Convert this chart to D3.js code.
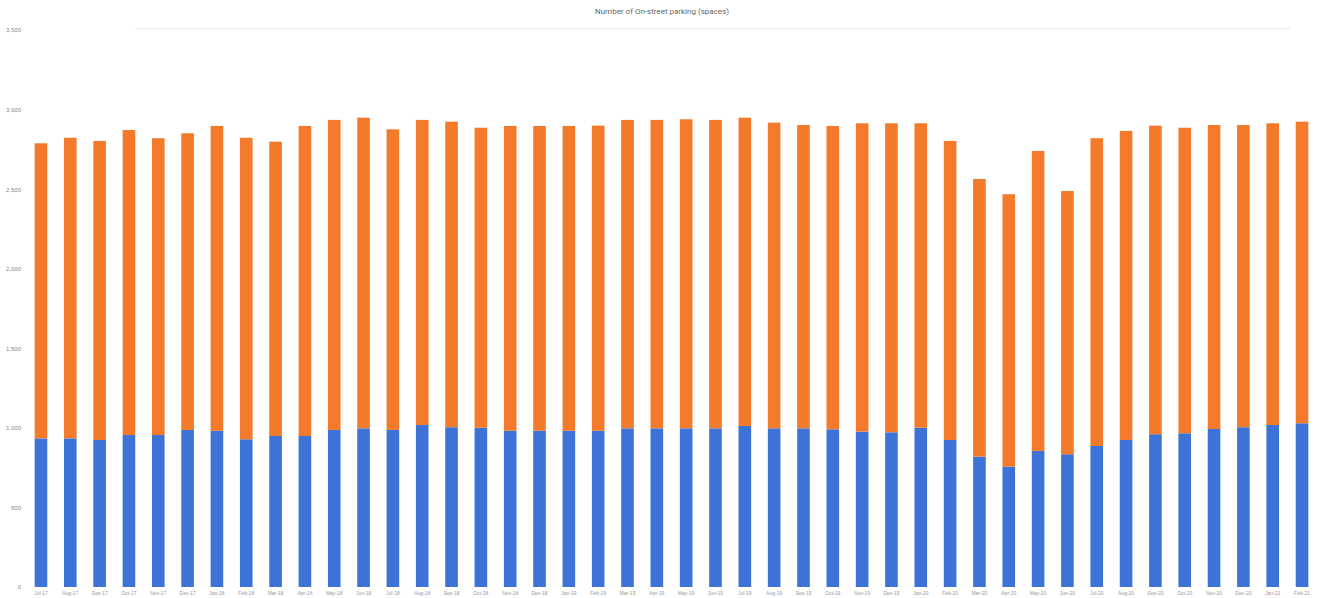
<!DOCTYPE html>
<html>
<head>
<meta charset="utf-8">
<script src="https://cdn.jsdelivr.net/npm/d3@7"></script>
<style>
  body { margin: 0; background: #fff; }
  svg { display: block; font-family: "Roboto", "Liberation Sans", sans-serif; }
</style>
</head>
<body>
<svg class="board" width="1323" height="598"></svg>
<script>
// Number of on-street parking spaces, stacked bars

var title = 'Number of On-street parking (spaces)';

// category labels (months)
var months = ['Jul-17','Aug-17','Sep-17','Oct-17','Nov-17','Dec-17',
  'Jan-18','Feb-18','Mar-18','Apr-18','May-18','Jun-18','Jul-18','Aug-18','Sep-18','Oct-18','Nov-18','Dec-18',
  'Jan-19','Feb-19','Mar-19','Apr-19','May-19','Jun-19','Jul-19','Aug-19','Sep-19','Oct-19','Nov-19','Dec-19',
  'Jan-20','Feb-20','Mar-20','Apr-20','May-20','Jun-20','Jul-20','Aug-20','Sep-20','Oct-20','Nov-20','Dec-20',
  'Jan-21','Feb-21'];

// lower series (blue)
var blueVals = [934, 934, 924, 955, 955, 987, 982, 928, 949, 949, 987, 997, 987, 1018, 1004,
  1001, 982, 982, 982, 982, 997, 997, 997, 997, 1012, 997, 997, 991, 976, 972,
  1001, 924, 819, 756, 855, 834, 886, 924, 960, 966, 993, 1004, 1018, 1029];

// upper series (orange)
var orangeVals = [1854, 1889, 1879, 1917, 1865, 1864, 1915, 1895, 1849, 1948, 1948, 1952, 1889, 1917, 1920,
  1885, 1915, 1915, 1915, 1917, 1938, 1938, 1942, 1938, 1937, 1921, 1906, 1906, 1938, 1942,
  1913, 1879, 1745, 1712, 1885, 1654, 1934, 1942, 1939, 1920, 1910, 1899, 1896, 1895];

var yTicks = [0, 500, 1000, 1500, 2000, 2500, 3000, 3500];

var blue = '#3d73d6';
var orange = '#f27a2a';

var svg = d3.select('.board');

var x = d3.scaleBand()
  .domain(months)
  .range([26.3, 1316.7])
  .paddingInner(0.57)
  .paddingOuter(0.285);

var y = d3.scaleLinear()
  .domain([0, 3500])
  .range([587, 30]);

// title
svg.append('text')
  .attr('x', 662)
  .attr('y', 14)
  .attr('text-anchor', 'middle')
  .attr('font-size', 8)
  .attr('fill', '#666')
  .text(title);

// faint top rule
svg.append('line')
  .attr('x1', 135).attr('x2', 1290)
  .attr('y1', 28.5).attr('y2', 28.5)
  .attr('stroke', '#e6e6e6')
  .attr('stroke-width', 1);

// y axis labels, no lines
svg.append('g')
  .attr('transform', 'translate(21,0)')
  .call(d3.axisLeft(y).tickValues(yTicks).tickSize(0).tickPadding(0))
  .call(function(g) { g.select('.domain').remove(); })
  .selectAll('text')
    .attr('font-size', 6)
    .attr('fill', '#888');

// x axis labels
svg.append('g')
  .attr('transform', 'translate(0,588)')
  .call(d3.axisBottom(x).tickSize(0).tickPadding(3))
  .call(function(g) { g.select('.domain').remove(); })
  .selectAll('text')
    .attr('font-size', 5)
    .attr('fill', '#999');

// stack the two series
var rows = months.map(function(m, i) {
  return {month: m, blue: blueVals[i], orange: orangeVals[i]};
});
var stacked = d3.stack().keys(['blue', 'orange'])(rows);
var colors = {blue: blue, orange: orange};

svg.append('g')
  .selectAll('g')
  .data(stacked)
  .enter().append('g')
    .attr('fill', function(d) { return colors[d.key]; })
  .selectAll('rect')
  .data(function(d) { return d; })
  .enter().append('rect')
    .attr('x', function(d) { return x(d.data.month); })
    .attr('width', x.bandwidth())
    .attr('y', function(d) { return y(d[1]); })
    .attr('height', function(d) { return y(d[0]) - y(d[1]); });
</script>
</body>
</html>
